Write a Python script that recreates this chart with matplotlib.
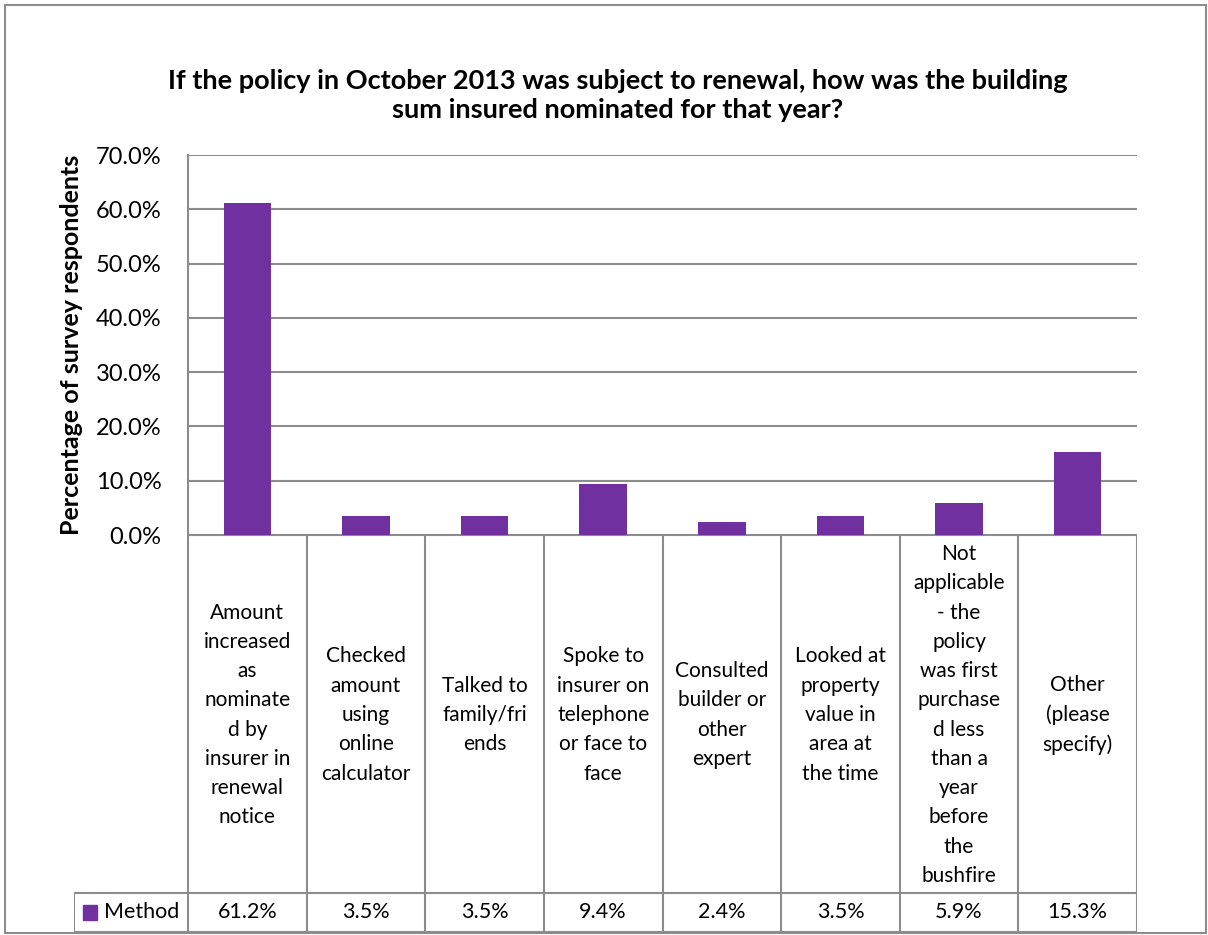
import matplotlib.pyplot as plt
from matplotlib.patches import Rectangle

categories = [
    "Amount\nincreased\nas\nnominate\nd by\ninsurer in\nrenewal\nnotice",
    "Checked\namount\nusing\nonline\ncalculator",
    "Talked to\nfamily/fri\nends",
    "Spoke to\ninsurer on\ntelephone\nor face to\nface",
    "Consulted\nbuilder or\nother\nexpert",
    "Looked at\nproperty\nvalue in\narea at\nthe time",
    "Not\napplicable\n- the\npolicy\nwas first\npurchase\nd less\nthan a\nyear\nbefore\nthe\nbushfire",
    "Other\n(please\nspecify)",
]
values = [61.2, 3.5, 3.5, 9.4, 2.4, 3.5, 5.9, 15.3]
value_labels = ["61.2%", "3.5%", "3.5%", "9.4%", "2.4%", "3.5%", "5.9%", "15.3%"]
series_name = "Method"
yticks = [0, 10, 20, 30, 40, 50, 60, 70]

plt.rcParams["font.family"] = ["Lato", "DejaVu Sans"]
W, H = 1208, 935
purple = "#7030A0"
gray = "#8c8c8c"

fig = plt.figure(figsize=(W / 100, H / 100), dpi=100)

# outer chart border
fig.patches.append(Rectangle((5 / W, 1 - 933 / H), 1201 / W, 928 / H, transform=fig.transFigure,
                             fill=False, edgecolor=gray, linewidth=1.5))

px_l, px_r, px_t, px_b = 188, 1137, 155, 535
ax = fig.add_axes([px_l / W, 1 - px_b / H, (px_r - px_l) / W, (px_b - px_t) / H])
n = len(values)
x = range(n)
ax.bar(x, values, width=0.4, color=purple, zorder=3)
ax.set_xlim(-0.5, n - 0.5)
ax.set_ylim(0, 70)
ax.set_yticks(yticks)
ax.set_yticklabels([f"{t:.1f}%" for t in yticks], fontsize=17)
ax.set_xticks([])
ax.grid(axis="y", color=gray, linewidth=1.5, zorder=0)
ax.tick_params(axis="y", length=0, pad=19)
for s in ["top", "right", "bottom"]:
    ax.spines[s].set_visible(False)
ax.spines["left"].set_color(gray)
ax.spines["left"].set_linewidth(1.5)
ax.set_ylabel("Percentage of survey respondents", fontsize=18, fontweight="bold", labelpad=9)

ax.set_title("If the policy in October 2013 was subject to renewal, how was the building\nsum insured nominated for that year?",
             fontsize=19.5, fontweight="bold", pad=27, linespacing=1.22, x=0.453)

# data table below the plot
cat_w = (px_r - px_l) / n
left_px = 74
tb = 932
tab = fig.add_axes([left_px / W, 1 - tb / H, (px_r - left_px) / W, (tb - px_b) / H])
left_units = (px_l - left_px) / cat_w
tab.set_xlim(-0.5 - left_units, n - 0.5)
tab.set_ylim(tb - px_b, 0)
tab.axis("off")
row_y = 893 - px_b
lw = 1.5
# horizontal lines
tab.plot([-0.5, n - 0.5], [0, 0], color=gray, lw=lw)
tab.plot([-0.5 - left_units, n - 0.5], [row_y, row_y], color=gray, lw=lw)
tab.plot([-0.5 - left_units, n - 0.5], [tb - px_b, tb - px_b], color=gray, lw=lw)
# vertical lines
for i in range(n + 1):
    tab.plot([i - 0.5, i - 0.5], [0, tb - px_b], color=gray, lw=lw)
tab.plot([-0.5 - left_units] * 2, [row_y, tb - px_b], color=gray, lw=lw)

for i, (lab, v) in enumerate(zip(categories, value_labels)):
    tab.text(i, row_y / 2 + 1, lab, ha="center", va="center", fontsize=15, linespacing=1.58)
    tab.text(i, (row_y + tb - px_b) / 2, v, ha="center", va="center", fontsize=15.5)

tab.add_patch(Rectangle((-0.5 - left_units + 0.08, row_y + 12), 0.11, 15, color=purple, clip_on=False))
tab.text(-0.5 - left_units + 0.25, (row_y + tb - px_b) / 2, series_name, ha="left", va="center", fontsize=15.5)

fig.savefig("out.png", dpi=100)
